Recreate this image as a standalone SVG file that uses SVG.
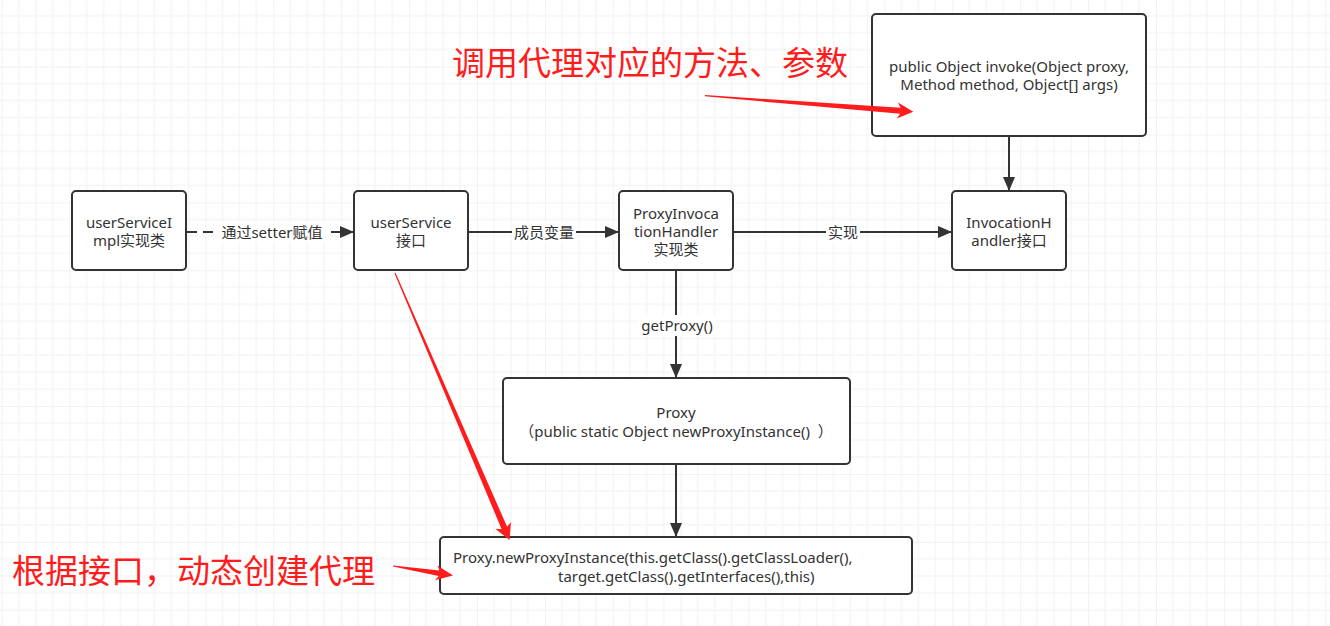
<svg xmlns="http://www.w3.org/2000/svg" width="1330" height="626" viewBox="0 0 1330 626">
<style>
.box{fill:#fff;stroke:#333;stroke-width:2}
.t{font-family:"Noto Sans","Noto Sans CJK SC",sans-serif;font-size:15px;fill:#333;text-anchor:middle}
.tl{font-family:"Noto Sans","Noto Sans CJK SC",sans-serif;font-size:15px;fill:#333}
.ln{stroke:#333;stroke-width:2;fill:none}
.lbl{fill:#fff}
.red{fill:#ff1c1c}
.rt{font-family:"Noto Sans CJK SC",sans-serif;font-size:33px;fill:#ff1c1c}
</style>
<defs>
<pattern id="grid" patternUnits="userSpaceOnUse" x="1.7" y="-1.3" width="67.9" height="67.9">
<path d="M16.975 0V67.9M33.95 0V67.9M50.925 0V67.9M0 16.975H67.9M0 33.95H67.9M0 50.925H67.9" stroke="#f2f2f2" stroke-width="1"/>
<path d="M0 0V67.9M0 0H67.9" stroke="#e6e6e6" stroke-width="1"/>
</pattern>
<marker id="ah" markerWidth="14" markerHeight="12" refX="13" refY="6" orient="auto" markerUnits="userSpaceOnUse">
<path d="M0 0L14 6L0 12Z" fill="#333"/>
</marker>
</defs>
<rect width="1330" height="626" fill="#fff"/>
<rect width="1330" height="626" fill="url(#grid)"/>

<g id="connectors">
<line class="ln" x1="187" y1="232" x2="353" y2="232" stroke-dasharray="10 6" marker-end="url(#ah)"/>
<rect class="lbl" x="219" y="222" width="106" height="20"/>
<text class="t" x="272" y="238">通过setter赋值</text>
<line class="ln" x1="469" y1="232" x2="618" y2="232" marker-end="url(#ah)"/>
<rect class="lbl" x="512" y="222" width="64" height="20"/>
<text class="t" x="544" y="238">成员变量</text>
<line class="ln" x1="733" y1="232" x2="951" y2="232" marker-end="url(#ah)"/>
<rect class="lbl" x="826" y="222" width="34" height="20"/>
<text class="t" x="843" y="238">实现</text>
<line class="ln" x1="1009" y1="137" x2="1009" y2="190" marker-end="url(#ah)"/>
<line class="ln" x1="676" y1="271" x2="676" y2="377" marker-end="url(#ah)"/>
<rect class="lbl" x="638" y="315" width="78" height="21"/>
<text class="t" x="677" y="331">getProxy()</text>
<line class="ln" x1="676" y1="465" x2="676" y2="536" marker-end="url(#ah)"/>
</g>

<g id="n-userServiceImpl">
<rect class="box" x="72" y="191" width="114" height="79" rx="4"/>
<text class="t" x="129" y="228">userServiceI</text>
<text class="t" x="129" y="246">mpl实现类</text>
</g>
<g id="n-userService">
<rect class="box" x="354" y="191" width="114" height="79" rx="4"/>
<text class="t" x="411" y="228">userService</text>
<text class="t" x="411" y="246">接口</text>
</g>
<g id="n-ProxyInvocationHandler">
<rect class="box" x="619" y="191" width="114" height="79" rx="4"/>
<text class="t" x="676" y="219">ProxyInvoca</text>
<text class="t" x="676" y="237">tionHandler</text>
<text class="t" x="676" y="255">实现类</text>
</g>
<g id="n-InvocationHandler">
<rect class="box" x="952" y="191" width="114" height="79" rx="4"/>
<text class="t" x="1009" y="228">InvocationH</text>
<text class="t" x="1009" y="246">andler接口</text>
</g>
<g id="n-invoke">
<rect class="box" x="872" y="14" width="274" height="122" rx="4"/>
<text class="t" x="1009" y="72">public Object invoke(Object proxy,</text>
<text class="t" x="1009" y="90">Method method, Object[] args)</text>
</g>
<g id="n-Proxy">
<rect class="box" x="503" y="378" width="347" height="86" rx="4"/>
<text class="t" x="676" y="418">Proxy</text>
<text class="t" x="676" y="437">（public static Object newProxyInstance()&#160;&#160;）</text>
</g>
<g id="n-newProxyInstance">
<rect class="box" x="440" y="537" width="472" height="57" rx="4"/>
<text class="tl" x="453" y="563">Proxy.newProxyInstance(this.getClass().getClassLoader(),</text>
<text class="tl" x="558" y="582">target.getClass().getInterfaces(),this)</text>
</g>

<g id="annotations">
<text class="rt" x="452" y="75">调用代理对应的方法、参数</text>
<text class="rt" x="12" y="583">根据接口，动态创建代理</text>
<polygon class="red" points="395.55,272.76 507.14,526.87 511.0,521.95 509.5,540 495.39,528.65 501.62,529.23 394.45,273.24"/>
<polygon class="red" points="393.09,565.41 439.61,570.54 437.38,565.43 453,575.5 435.04,580.25 438.73,576.08 392.91,566.59"/>
<polygon class="red" points="705.05,95.1 900.57,107.71 897.96,102.49 913.3,111.7 896.74,118.45 900.11,113.69 704.95,96.3"/>
</g>
</svg>
